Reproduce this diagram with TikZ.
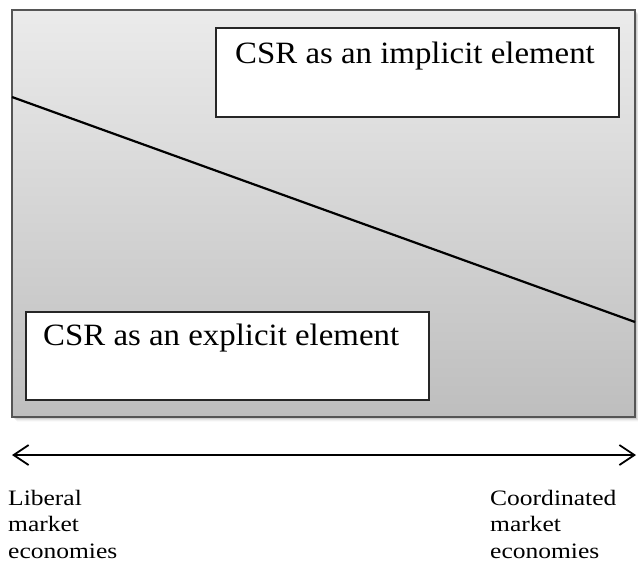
\documentclass[tikz,border=0pt]{standalone}
\usepackage{fontspec}
\setmainfont{Liberation Serif}
\newfontfamily\boxfont{Liberation Serif}[FakeStretch=1.06]
\newfontfamily\endfont{Liberation Serif}[FakeStretch=1.16]
\usetikzlibrary{arrows.meta}

\definecolor{paneltop}{RGB}{235,235,235}
\definecolor{panelbottom}{RGB}{190,190,190}
\definecolor{panelrim}{RGB}{85,85,85}

\tikzset{
  panel/.style={rectangle, draw=panelrim, line width=1.4pt,
    top color=paneltop, bottom color=panelbottom, inner sep=0pt},
  labelbox/.style={rectangle, draw=black!85, line width=1.1pt, fill=white,
    inner sep=0pt},
  boxtext/.style={inner sep=0pt, font=\boxfont\fontsize{31}{36}\selectfont},
  trend/.style={line width=2.2pt, black},
  axis/.style={line width=1.8pt, black,
    {Straight Barb[length=15pt,width=20pt,line width=1.8pt]}-{Straight Barb[length=15pt,width=20pt,line width=1.8pt]}},
  endlabel/.style={inner sep=0pt, align=left, anchor=north west,
    font=\endfont\fontsize{22}{26.5}\selectfont}
}

\begin{document}
\begin{tikzpicture}[x=1pt,y=-1pt]
\useasboundingbox (0,0) rectangle (638,563);

% soft drop shadow under the panel
\foreach \d/\o in {1/0.12,2/0.09,3/0.06,4/0.04,5/0.02}
  \fill[black,opacity=\o] (12+\d,10+\d) rectangle (635+\d,417+\d);

% shaded panel
\node[panel, minimum width=623pt, minimum height=407pt] (panel) at (323.5,213.5) {};

% falling line across the panel
\coordinate (hi) at (12,97);
\coordinate (lo) at (635,322);
\draw[trend] (hi) -- (lo);

% the two labelled boxes
\node[labelbox, minimum width=403pt, minimum height=89pt] (implicitbox) at (417.5,72.5) {};
\node[boxtext, anchor=west] (implicittext) at (235,56) {CSR as an implicit element};

\node[labelbox, minimum width=403pt, minimum height=88pt] (explicitbox) at (227.5,356) {};
\node[boxtext, anchor=west] (explicittext) at (43,338) {CSR as an explicit element};

% horizontal axis
\coordinate (axisL) at (12,455);
\coordinate (axisR) at (636,455);
\draw[axis] (axisL) -- (axisR);

% axis end labels
\node[endlabel] (liberal) at (8,490) {Liberal\\market\\economies};
\node[endlabel] (coordinated) at (490,490) {Coordinated\\market\\economies};
\end{tikzpicture}
\end{document}
